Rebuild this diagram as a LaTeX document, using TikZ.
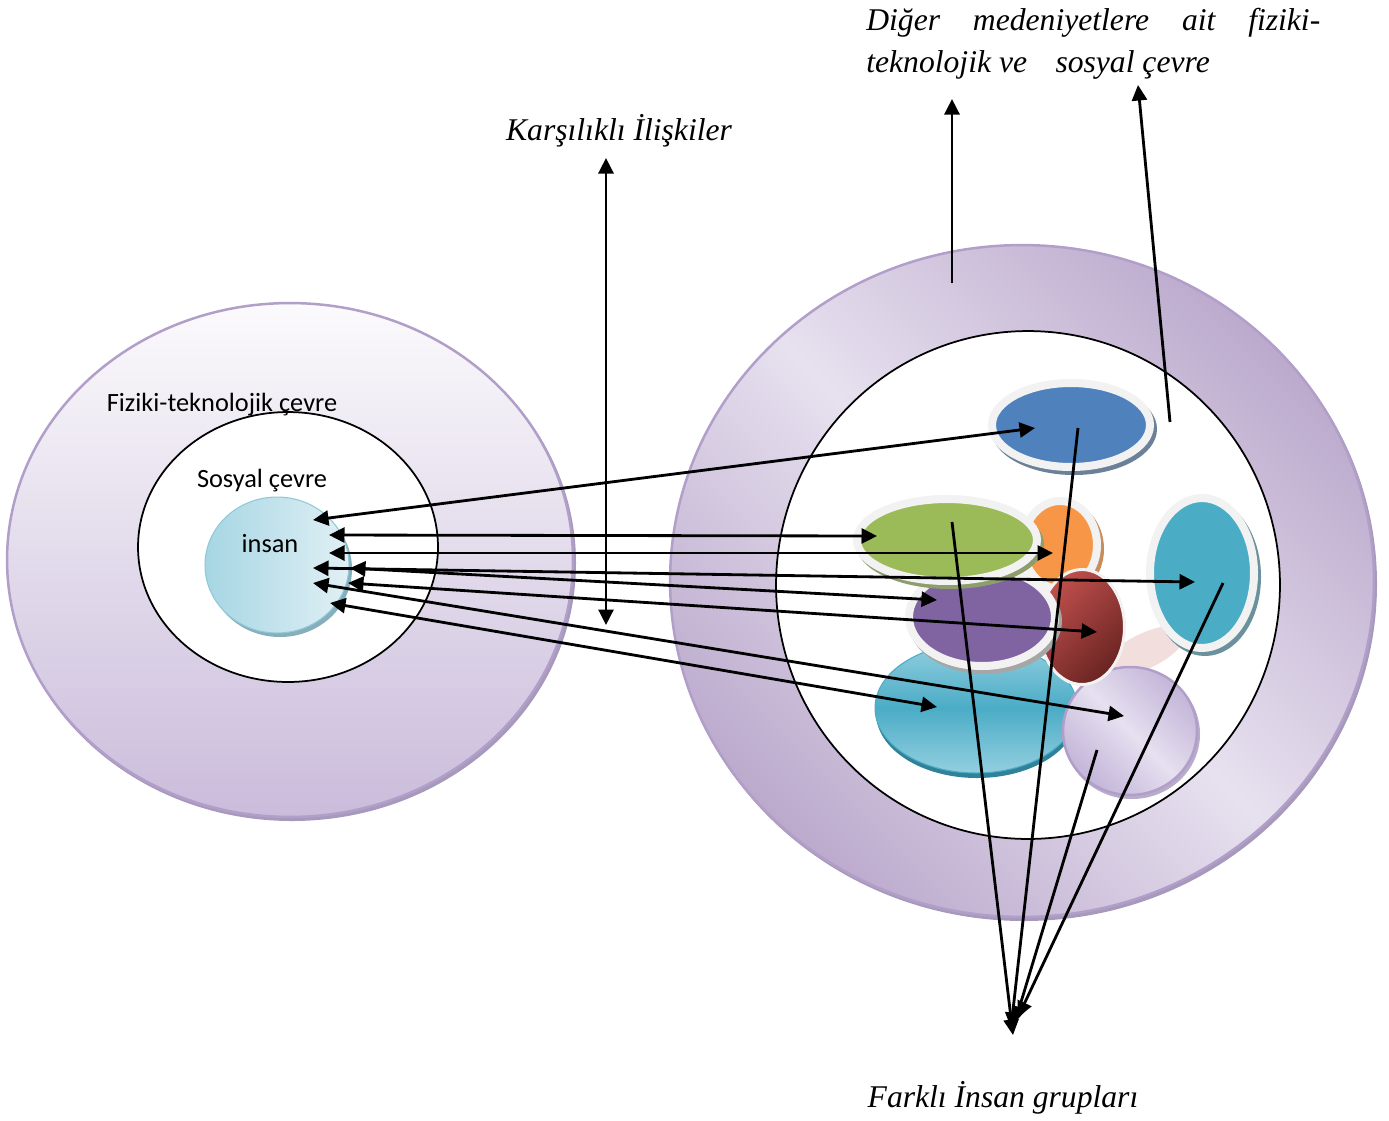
\documentclass[tikz,border=0pt]{standalone}
\usepackage{fontspec}
\setmainfont{Liberation Serif}
\newfontfamily\calfont{Carlito}
\usetikzlibrary{arrows.meta,shapes.geometric}
\definecolor{ringD}{HTML}{BCAACD}
\definecolor{ringL}{HTML}{E7E1EF}
\definecolor{lavD}{HTML}{C6B8DA}
\definecolor{lavL}{HTML}{E6E0F0}
\definecolor{leftTop}{HTML}{FBFAFC}
\definecolor{leftBot}{HTML}{CABCDB}
\definecolor{purpEdge}{HTML}{B19FCA}
\definecolor{insanD}{HTML}{A6D6E3}
\definecolor{insanL}{HTML}{E1F0F5}
\definecolor{insanEdge}{HTML}{8FC9D8}
\definecolor{insanSh}{HTML}{86AEBB}
\definecolor{blueC}{HTML}{4F81BD}
\definecolor{greenC}{HTML}{9BBB59}
\definecolor{orangeC}{HTML}{F79646}
\definecolor{purpleC}{HTML}{8064A2}
\definecolor{tealC}{HTML}{4BACC6}
\definecolor{tealL}{HTML}{93CFE0}
\definecolor{tealSh}{HTML}{2F8297}
\definecolor{redL}{HTML}{C0504D}
\definecolor{redD}{HTML}{6A2422}
\definecolor{rim}{HTML}{F2F2F2}
\definecolor{pinkC}{HTML}{F0D6D6}
\pgfdeclarehorizontalshading{ringshade}{100bp}{color(0bp)=(ringD); color(25bp)=(ringD); color(50bp)=(ringL); color(75bp)=(ringD); color(100bp)=(ringD)}
\pgfdeclarehorizontalshading{lavshade}{100bp}{color(0bp)=(lavD); color(27bp)=(lavD); color(50bp)=(lavL); color(73bp)=(lavD); color(100bp)=(lavD)}
\tikzset{
  blob/.style={ellipse, inner sep=0pt, outer sep=0pt},
  grp/.style={blob, draw=rim, line width=0.16cm},
  rel/.style={line width=1.6pt, {Triangle[length=0.31cm,width=0.3cm]}-{Triangle[length=0.31cm,width=0.3cm]}},
  one/.style={line width=1.6pt, -{Triangle[length=0.31cm,width=0.3cm]}},
  sanslbl/.style={font=\calfont\fontsize{15}{18}\selectfont, inner sep=0pt},
  serlbl/.style={font=\itshape\fontsize{18}{22}\selectfont, inner sep=0pt},
}
\begin{document}
\begin{tikzpicture}[x=0.02cm,y=-0.02cm]
\useasboundingbox (0,0) rectangle (1389,1120);
% ---------- left side ----------
\fill[purpEdge!80!gray] (292,563) ellipse [x radius=284, y radius=258];
\node[blob, draw=purpEdge, line width=0.05cm, top color=leftTop, bottom color=leftBot, minimum width=11.32cm, minimum height=10.28cm] (fizik) at (290,560) {};
\node[blob, draw=black, line width=1pt, fill=white, minimum width=6cm, minimum height=5.4cm] (sosyal) at (288,547) {};
\fill[insanSh] (280,569) ellipse [x radius=72, y radius=68];
\node[blob, draw=insanEdge, line width=0.6pt, left color=insanD, right color=insanL, minimum width=2.88cm, minimum height=2.72cm] (insan) at (277,565) {};
\node[sanslbl, anchor=base] (tfizik) at (222,411) {Fiziki-teknolojik çevre};
\node[sanslbl, anchor=base] (tsosyal) at (262,487) {Sosyal çevre};
\node[sanslbl, anchor=base] (tinsan) at (270,552) {insan};
% ---------- right side ----------
\fill[purpEdge!80!gray] (1024,584) ellipse [x radius=353, y radius=337];
\node[blob, draw=purpEdge, line width=0.05cm, shading=ringshade, shading angle=45, minimum width=14.08cm, minimum height=13.44cm] (diger) at (1022,581) {};
\node[blob, draw=black, line width=1pt, fill=white, minimum width=10.08cm, minimum height=10.16cm] (ic) at (1028,585) {};
% pale pink link
\node[blob, fill=pinkC, opacity=0.8, rotate=26, minimum width=1.8cm, minimum height=0.7cm] (pink) at (1145,651) {};
% teal bottom
\fill[tealSh] (977,713) ellipse [x radius=101, y radius=65];
\node[blob, draw=tealC, line width=0.6pt, top color=tealL, bottom color=tealL, middle color=tealC, minimum width=4.04cm, minimum height=2.6cm] (tealb) at (976,708) {};
% lavender
\fill[lavD!80!gray] (1132,734) ellipse [x radius=68, y radius=65];
\node[blob, draw=purpEdge, line width=0.05cm, shading=lavshade, shading angle=45, minimum width=2.68cm, minimum height=2.56cm] (lav) at (1130,731) {};
% orange
\fill[orangeC!60!gray] (1063,549) ellipse [x radius=41, y radius=48];
\node[grp, fill=orangeC, minimum width=1.48cm, minimum height=1.76cm] (orange) at (1060,545) {};
% red
\node[blob, draw=rim, line width=0.06cm, top color=redL, bottom color=redD, shading angle=45, minimum width=1.7cm, minimum height=2.3cm] (red) at (1082,627) {};
% purple
\fill[gray!70] (985,621) ellipse [x radius=77, y radius=53];
\node[grp, fill=purpleC, minimum width=2.92cm, minimum height=1.96cm] (purple) at (982,617) {};
% green
\fill[greenC!50!gray] (950,544) ellipse [x radius=94, y radius=45];
\node[grp, fill=greenC, minimum width=3.6cm, minimum height=1.64cm] (green) at (947,540) {};
% blue
\fill[blueC!40!gray] (1074,429) ellipse [x radius=83, y radius=46];
\node[grp, fill=blueC, minimum width=3.16cm, minimum height=1.68cm] (blue) at (1071,425) {};
% teal right
\fill[tealC!40!gray] (1205,577) ellipse [x radius=56, y radius=79];
\node[grp, fill=tealC, minimum width=2.08cm, minimum height=3.0cm] (tealr) at (1202,573) {};
% ---------- arrow end points ----------
\coordinate (i1) at (313,520);
\coordinate (i2) at (329,535);
\coordinate (i3) at (329,553);
\coordinate (i4) at (313,568);
\coordinate (i5) at (350,568);
\coordinate (i6) at (313,583);
\coordinate (i7) at (348,583);
\coordinate (i8) at (330,603);
\coordinate (pBlue) at (1035,428);
\coordinate (pGreen) at (877,536);
\coordinate (pOrange) at (1053,553);
\coordinate (pTealR) at (1195,582);
\coordinate (pPurple) at (937,600);
\coordinate (pRed) at (1097,632);
\coordinate (pTealB) at (937,707);
\coordinate (pLav) at (1124,716);
% relations
\draw[rel] (i1) -- (pBlue);
\draw[rel] (i2) -- (pGreen);
\draw[rel] (i3) -- (pOrange);
\draw[rel] (i4) -- (pTealR);
\draw[rel] (i5) -- (pPurple);
\draw[rel] (i6) -- (pLav);
\draw[rel] (i7) -- (pRed);
\draw[rel] (i8) -- (pTealB);
% ---------- labels ----------
\node[serlbl, anchor=base] (tkars) at (619,140) {Karşılıklı İlişkiler};
\node[serlbl, anchor=base west] (tdig1) at (866,30) {\makebox[9.08cm][s]{Diğer medeniyetlere ait fiziki-}};
\node[serlbl, anchor=base west] (tdig2) at (866,72) {teknolojik ve\hspace{0.9em}sosyal çevre};
\node[serlbl, anchor=base] (tfark) at (1003,1107) {Farklı İnsan grupları};
\coordinate (kTop) at (606,158);
\coordinate (kBot) at (606,625);
\draw[rel] (kBot) -- (kTop);
\coordinate (u1s) at (952,283);
\coordinate (u1e) at (952,99);
\coordinate (u2s) at (1170,422);
\coordinate (u2e) at (1138,85);
\draw[one] (u1s) -- (u1e);
\draw[one] (u2s) -- (u2e);
% groups
\coordinate (gGreen) at (952,522);
\coordinate (gBlue) at (1078,428);
\coordinate (gTeal) at (1223,583);
\coordinate (gLav) at (1097,750);
\coordinate (f1) at (1013,1035);
\coordinate (f2) at (1011,1028);
\coordinate (f3) at (1015,1022);
\coordinate (f4) at (1018,1017);
\draw[one] (gGreen) -- (f1);
\draw[one] (gBlue) -- (f2);
\draw[one] (gLav) -- (f3);
\draw[one] (gTeal) -- (f4);
\end{tikzpicture}
\end{document}
